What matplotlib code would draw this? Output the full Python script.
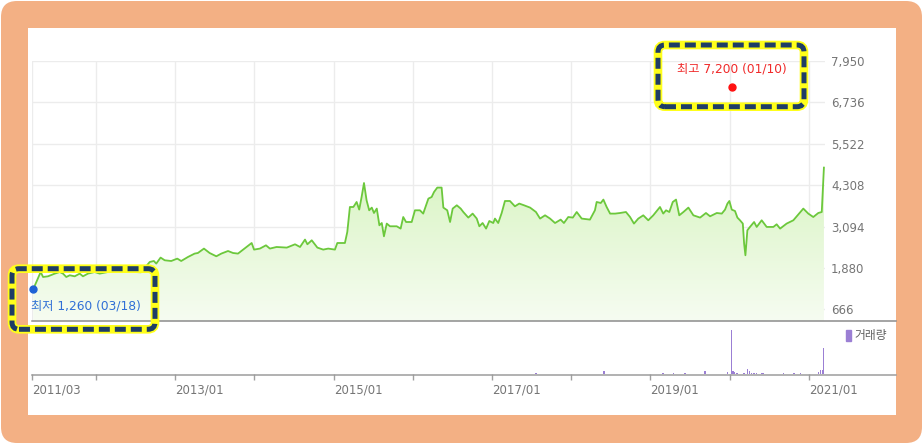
import numpy as np
import pandas as pd
import matplotlib
matplotlib.use('Agg')
import matplotlib.pyplot as plt
import matplotlib.dates as mdates
from matplotlib.patches import FancyBboxPatch, Rectangle, Patch
from matplotlib.lines import Line2D
from matplotlib.transforms import IdentityTransform
from matplotlib.colors import LinearSegmentedColormap

plt.rcParams['font.family'] = ['DejaVu Sans', 'Noto Sans CJK KR']
plt.rcParams['lines.scale_dashes'] = False

# price (close)
price_dates = [
    '2011-03-18', '2011-04-21', '2011-05-02', '2011-05-25', '2011-06-25', '2011-07-18',
    '2011-08-02', '2011-08-17', '2011-09-02', '2011-09-25', '2011-10-18', '2011-11-02',
    '2011-11-25', '2011-12-26', '2012-01-18', '2012-02-25', '2012-03-27', '2012-05-12',
    '2012-06-27', '2012-07-27', '2012-09-05', '2012-09-24', '2012-10-05', '2012-10-25',
    '2012-11-13', '2012-12-13', '2013-01-10', '2013-01-28', '2013-02-28', '2013-03-31',
    '2013-04-15', '2013-05-13', '2013-06-08', '2013-07-09', '2013-08-01', '2013-09-01',
    '2013-09-24', '2013-10-17', '2013-11-10', '2013-12-19', '2013-12-30', '2014-01-26',
    '2014-02-23', '2014-03-13', '2014-04-13', '2014-05-30', '2014-07-07', '2014-07-30',
    '2014-08-22', '2014-09-02', '2014-09-22', '2014-10-18', '2014-11-14', '2014-12-07',
    '2015-01-07', '2015-01-18', '2015-02-22', '2015-03-05', '2015-03-17', '2015-04-02',
    '2015-04-17', '2015-04-29', '2015-05-10', '2015-05-21', '2015-06-02', '2015-06-14',
    '2015-06-26', '2015-07-06', '2015-07-19', '2015-07-31', '2015-08-11', '2015-08-21',
    '2015-09-03', '2015-09-18', '2015-10-19', '2015-11-06', '2015-11-18', '2015-12-01',
    '2015-12-27', '2016-01-11', '2016-02-03', '2016-02-18', '2016-03-13', '2016-03-28',
    '2016-04-08', '2016-04-23', '2016-05-13', '2016-05-21', '2016-06-08', '2016-06-21',
    '2016-07-03', '2016-07-22', '2016-08-09', '2016-08-21', '2016-09-13', '2016-10-03',
    '2016-10-22', '2016-11-03', '2016-11-18', '2016-12-04', '2016-12-19', '2017-01-06',
    '2017-01-14', '2017-01-29', '2017-02-14', '2017-03-01', '2017-03-24', '2017-04-16',
    '2017-05-06', '2017-05-28', '2017-06-25', '2017-07-22', '2017-08-10', '2017-09-02',
    '2017-09-25', '2017-10-18', '2017-11-13', '2017-11-28', '2017-12-18', '2018-01-08',
    '2018-01-26', '2018-02-18', '2018-03-28', '2018-04-20', '2018-04-28', '2018-05-17',
    '2018-05-29', '2018-06-13', '2018-06-29', '2018-07-22', '2018-08-14', '2018-09-10',
    '2018-09-29', '2018-10-17', '2018-11-06', '2018-11-29', '2018-12-22', '2019-01-14',
    '2019-02-14', '2019-03-01', '2019-03-14', '2019-03-29', '2019-04-14', '2019-04-29',
    '2019-05-14', '2019-06-02', '2019-06-25', '2019-07-18', '2019-08-18', '2019-09-14',
    '2019-10-03', '2019-11-03', '2019-11-26', '2019-12-11', '2019-12-22', '2019-12-31',
    '2020-01-11', '2020-01-26', '2020-02-06', '2020-02-18', '2020-03-02', '2020-03-08',
    '2020-03-14', '2020-03-23', '2020-04-04', '2020-04-23', '2020-05-05', '2020-05-28',
    '2020-06-20', '2020-07-21', '2020-08-05', '2020-08-21', '2020-09-20', '2020-10-21',
    '2020-12-06', '2020-12-29', '2021-01-21', '2021-02-13', '2021-03-01', '2021-03-11',
]
price_close = [
    1260, 1761, 1615, 1635, 1714, 1761,
    1714, 1615, 1665, 1635, 1714, 1635,
    1714, 1761, 1714, 1761, 1761, 1761,
    1761, 1753, 2055, 2084, 2008, 2184,
    2105, 2084, 2154, 2084, 2201, 2301,
    2319, 2448, 2319, 2222, 2301, 2377,
    2319, 2301, 2418, 2612, 2418, 2448,
    2544, 2448, 2495, 2477, 2574, 2495,
    2712, 2574, 2691, 2477, 2418, 2448,
    2418, 2612, 2612, 2935, 3668, 3668,
    3815, 3592, 3961, 4372, 3864, 3571,
    3650, 3492, 3621, 3131, 3198, 2808,
    3181, 3102, 3102, 3034, 3374, 3228,
    3228, 3571, 3571, 3474, 3914, 3961,
    4108, 4237, 4237, 3650, 3571, 3228,
    3621, 3718, 3621, 3521, 3357, 3474,
    3328, 3102, 3198, 3034, 3257, 3198,
    3328, 3198, 3492, 3844, 3844, 3688,
    3768, 3718, 3650, 3521, 3328, 3424,
    3328, 3198, 3298, 3198, 3374, 3357,
    3521, 3328, 3298, 3571, 3815, 3785,
    3885, 3668, 3474, 3474, 3492, 3521,
    3374, 3181, 3328, 3424, 3278, 3424,
    3668, 3474, 3571, 3521, 3815, 3885,
    3424, 3521, 3650, 3424, 3357, 3492,
    3395, 3492, 3474, 3591, 3767, 3844,
    3591, 3550, 3357, 3278, 3181, 2594,
    2251, 2985, 3083, 3228, 3083, 3278,
    3083, 3083, 3160, 3034, 3181, 3278,
    3621, 3474, 3374, 3492, 3521, 4823,
]

# volume (thousand shares, rough)
vol_dates = [
    '2017-07-22', '2018-05-31', '2019-03-01', '2019-04-17', '2019-06-09', '2019-09-10',
    '2019-12-22', '2020-01-10', '2020-01-17', '2020-01-22', '2020-02-03', '2020-03-08',
    '2020-03-23', '2020-04-01', '2020-04-12', '2020-04-23', '2020-05-05', '2020-05-28',
    '2020-06-04', '2020-09-05', '2020-10-24', '2020-11-24', '2021-02-13', '2021-02-24',
    '2021-03-05', '2021-03-10',
]
vol_values = [
    23, 60, 23, 23, 23, 60,
    45, 1000, 57, 45, 23, 23,
    114, 68, 23, 23, 23, 23,
    23, 23, 23, 23, 34, 91,
    91, 590,
]

price_ticks = [666, 1880, 3094, 4308, 5522, 6736, 7950]
x_start, x_end = '2011-03-12', '2021-03-16'
x_tick_dates = [x_start] + ['%d-01-01' % y for y in range(2012, 2022)]
x_tick_labels = ['2011/03', '', '2013/01', '', '2015/01', '', '2017/01', '', '2019/01', '', '2021/01']

low_date, low_value, low_label = '2011-03-18', 1260, '최저 1,260 (03/18)'
high_date, high_value, high_label = '2020-01-10', 7200, '최고 7,200 (01/10)'

W, H = 924, 444
fig = plt.figure(figsize=(W / 100, H / 100), dpi=100)
fig.patch.set_facecolor('white')


def box(x0, y0, x1, y1):
    # image pixels (top-left origin) -> figure fraction [l, b, w, h]
    return [x0 / W, 1 - y1 / H, (x1 - x0) / W, (y1 - y0) / H]


# frame
frame = FancyBboxPatch((1, 1), 921, 442, boxstyle='round,pad=0,rounding_size=16',
                       transform=IdentityTransform(), fc='#f3b084', ec='none', zorder=-10)
fig.add_artist(frame)
fig.add_artist(Rectangle((28, H - 415), 868, 387, transform=IdentityTransform(),
                         fc='white', ec='none', zorder=-9))

ax = fig.add_axes(box(32, 61, 825, 321))
axv = fig.add_axes(box(32, 321, 825, 374), sharex=ax)
for a in (ax, axv):
    a.set_facecolor('none')
    for s in a.spines.values():
        s.set_visible(False)

d = pd.to_datetime(price_dates)
vals = np.array(price_close, dtype=float)
xlo, xhi = mdates.date2num(pd.Timestamp(x_start)), mdates.date2num(pd.Timestamp(x_end))
ylo, yhi = 324, 7950

# gradient fill under the line
cmap = LinearSegmentedColormap.from_list('g', ['#c4efa2', '#f6fcf1'])
grad = np.linspace(0, 1, 256).reshape(-1, 1)
im = ax.imshow(grad, extent=[xlo, xhi, ylo, yhi], aspect='auto', cmap=cmap,
               origin='upper', zorder=1)
poly = ax.fill_between(d, vals, ylo, facecolor='none', edgecolor='none')
im.set_clip_path(poly.get_paths()[0], transform=ax.transData)
ax.plot(d, vals, color='#6cc83c', lw=1.3, zorder=3)

ax.set_xlim(xlo, xhi)
ax.set_ylim(ylo, yhi)
ax.set_yticks(price_ticks)
ax.set_yticklabels(['{:,}'.format(v) for v in price_ticks])
ax.yaxis.tick_right()
ax.tick_params(axis='y', length=0, pad=4.3, labelsize=8.5, labelcolor='#757575')
ax.set_xticks(mdates.date2num(pd.to_datetime(x_tick_dates)))
ax.tick_params(axis='x', length=0, labelbottom=False)
ax.grid(True, color='#ececec', lw=1, zorder=0)
ax.set_axisbelow(True)

# min / max markers
ax.plot(pd.Timestamp(low_date), low_value, 'o', color='#1f62d6', ms=5, zorder=5, clip_on=False)
ax.annotate(low_label, xy=(pd.Timestamp(low_date), low_value), xytext=(-1.5, -12.5),
            textcoords='offset points', ha='left', va='center', fontsize=8.8, color='#2f6fd6')
ax.plot(pd.Timestamp(high_date), high_value, 'o', color='#ff1010', ms=5, zorder=5)
ax.annotate(high_label, xy=(pd.Timestamp(high_date), high_value), xytext=(0, 12.5),
            textcoords='offset points', ha='center', va='center', fontsize=8.8, color='#f02a2a')

# volume
vd = pd.to_datetime(vol_dates)
axv.bar(vd, vol_values, width=7, color='#9b7fd4', zorder=2)
axv.set_ylim(0, 1200)
axv.set_yticks([])
axv.set_xticks(mdates.date2num(pd.to_datetime(x_tick_dates)))
axv.set_xticklabels(x_tick_labels, ha='left')
axv.tick_params(axis='x', length=4, width=1, color='#a0a0a0', pad=3,
                labelsize=8.5, labelcolor='#757575')
axv.legend(handles=[Patch(color='#9b7fd4')], labels=['거래량'], loc='upper left',
           bbox_to_anchor=(1.027, 0.84), frameon=False, borderpad=0, borderaxespad=0,
           handlelength=0.35, handleheight=1.0, handletextpad=0.3,
           prop={'size': 8.5}, labelcolor='#606060')

# separator lines
fig.add_artist(Line2D([32, 896], [H - 321, H - 321], transform=IdentityTransform(),
                      color='#8c8c8c', lw=1.1))
fig.add_artist(Line2D([32, 896], [H - 374.5, H - 374.5], transform=IdentityTransform(),
                      color='#9c9c9c', lw=1.1))

# highlight boxes around the low / high labels
for x0, y0, x1, y1 in [(12, 268.7, 155, 329.3), (658, 45, 804, 106.7)]:
    for ec, lw, ls in [('#ffff1a', 6.2, '-'), ('#1e3d66', 3.6, (0, (7.9, 3.6)))]:
        fig.add_artist(FancyBboxPatch((x0, H - y1), x1 - x0, y1 - y0,
                                      boxstyle='round,pad=0,rounding_size=7',
                                      transform=IdentityTransform(), fc='none', ec=ec,
                                      lw=lw, ls=ls, zorder=20))

fig.savefig('out.png', dpi=100)
